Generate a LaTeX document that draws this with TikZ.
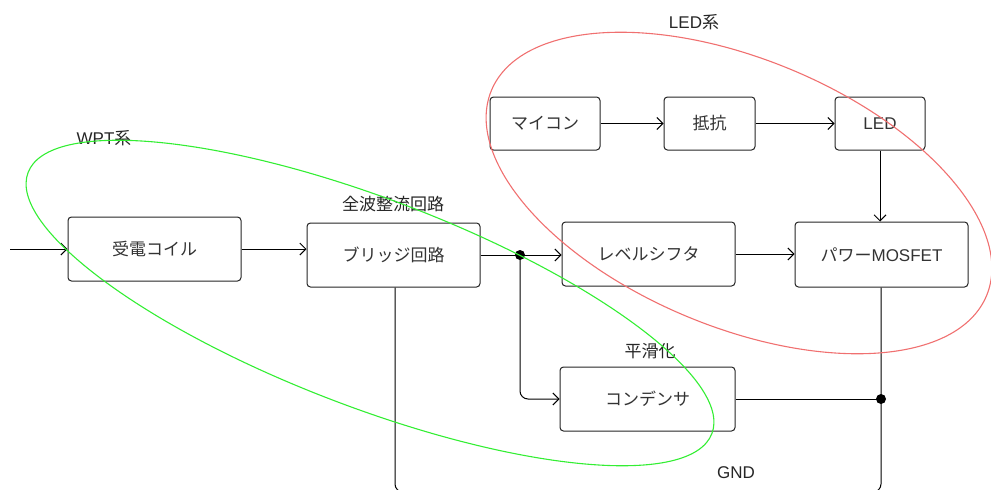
\documentclass[tikz,border=0pt]{standalone}
\usepackage{fontspec}
\setmainfont{Liberation Sans}
\newfontfamily\jp{Noto Sans CJK JP}
\usetikzlibrary{arrows.meta}
\definecolor{wptgreen}{HTML}{33EE33}
\definecolor{ledred}{HTML}{F07070}
\tikzset{
  blk/.style={draw=black!85, line width=1pt, rounded corners=3.5pt, fill=white, text=black!80,
    font=\fontsize{17}{20}\selectfont, inner sep=0pt},
  lbl/.style={text=black!85, font=\fontsize{17}{20}\selectfont, inner sep=0pt},
  conn/.style={draw=black, line width=1pt},
  arr/.style={conn, -{Straight Barb[length=6pt,width=12pt,line width=1pt]}},
  jdot/.style={circle, fill=black, inner sep=0pt, minimum size=10pt},
  grp/.style={line width=1.1pt}
}
\begin{document}
\begin{tikzpicture}[x=1pt,y=-1pt]
\clip (0,0) rectangle (991,490);
\useasboundingbox (0,0) rectangle (991,490);
% boxes
\node[blk, minimum width=173pt, minimum height=64pt] (coil) at (154.5,249) {\jp 受電コイル};
\node[blk, minimum width=173pt, minimum height=64pt] (bridge) at (393.5,255) {\jp ブリッジ回路};
\node[blk, minimum width=173pt, minimum height=64pt] (level) at (648.5,254) {\jp レベルシフタ};
\node[blk, minimum width=173pt, minimum height=65pt] (mos) at (881.5,254.5) {{\jp パワー}MOSFET};
\node[blk, minimum width=175pt, minimum height=64pt] (cond) at (647.5,399) {\jp コンデンサ};
\node[blk, minimum width=110pt, minimum height=53pt] (micon) at (545,123.5) {\jp マイコン};
\node[blk, minimum width=91pt, minimum height=53pt] (resist) at (709.5,123.5) {\jp 抵抗};
\node[blk, minimum width=90pt, minimum height=53pt] (led) at (880,123.5) {LED};
% labels
\node[lbl] (lwpt) at (104,138) {WPT{\jp 系}};
\node[lbl] (lled) at (694,22) {LED{\jp 系}};
\node[lbl] (lfull) at (393,204) {\jp 全波整流回路};
\node[lbl] (lsmooth) at (650,351) {\jp 平滑化};
\node[lbl] (lgnd) at (736,473) {GND};
% junctions
\node[jdot] (j1) at (520,255) {};
\node[jdot] (j2) at (881,399) {};
\coordinate (in) at (10,249);
\coordinate (gl) at (395,492);
\coordinate (gr) at (881,492);
% connectors
\draw[arr] (in) -- (coil.west);
\draw[arr] (coil.east) -- (coil.east -| bridge.west);
\draw[conn] (bridge.east) -- (j1.center);
\draw[arr] (j1.center) -- (level.west |- j1.center);
\draw[arr] (level.east) -- (level.east -| mos.west);
\draw[arr, rounded corners=8pt] (j1.center) |- (cond.west);
\draw[conn] (cond.east) -- (j2.center);
\draw[arr] (micon.east) -- (resist.west);
\draw[arr] (resist.east) -- (led.west);
\draw[arr] (led.south) -- (led.south |- mos.north);
\draw[conn, rounded corners=8pt] (mos.south -| j2) -- (gr) -- (gl) -- (gl |- bridge.south);
% group ellipses (on top)
\draw[grp, draw=ledred] (739,193) ellipse [x radius=268, y radius=134, rotate=-22.5];
\draw[grp, draw=wptgreen] (370,303) ellipse [x radius=366, y radius=104, rotate=-20.9];
\end{tikzpicture}
\end{document}
